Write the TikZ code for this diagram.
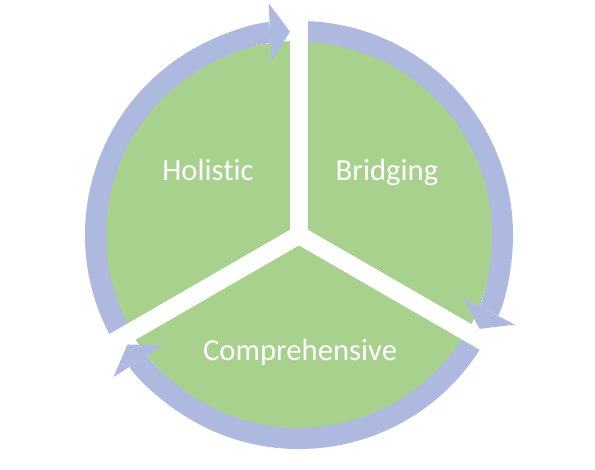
\documentclass[tikz,border=0pt]{standalone}
\usepackage{fontspec}
\setmainfont{Carlito}[Ligatures=NoCommon]
\usetikzlibrary{arrows.meta}
\definecolor{cyclegreen}{RGB}{169,209,142}
\definecolor{cycleblue}{RGB}{173,185,222}

\begin{document}
\begin{tikzpicture}[x=0.75pt, y=0.75pt, every node/.style={outer sep=0pt},
    ringarrow/.style={draw=cycleblue, line width=15.75pt,
      -{Triangle[width=44pt, length=15pt, line width=0pt 0 0]}},
    spoke/.style={draw=white, line width=13.5pt},
    cyclelabel/.style={text=white, font=\fontsize{23}{27}\selectfont, anchor=base}]
        \useasboundingbox (0,0) rectangle (595,470);
        \coordinate (c) at (299,235);
        \fill [cyclegreen] (c) circle [radius=194];
        % ring of three arrows, clockwise
        \draw [ringarrow] ([shift={(210:203.5)}]c) arc [start angle=210, end angle=92.54, radius=203.5];
        \draw [ringarrow] ([shift={(90:203.5)}]c) arc [start angle=90, end angle=-27.46, radius=203.5];
        \draw [ringarrow] ([shift={(-30:203.5)}]c) arc [start angle=-30, end angle=-147.46, radius=203.5];
        % white spokes cut the pie
        \foreach \a in {90,-30,210}
          \draw [spoke] (c) -- ([shift={(\a:240)}]c);
        \node (hol) [cyclelabel] at (208,289) {Holistic};
        \node (bri) [cyclelabel] at (387,289) {Bridging};
        \node (com) [cyclelabel] at (300,109) {Comprehensive};
    \end{tikzpicture}
\end{document}
